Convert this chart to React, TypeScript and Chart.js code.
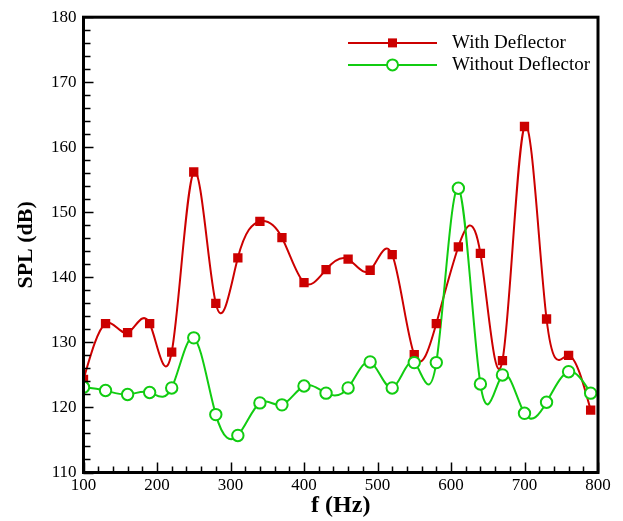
import React, { useEffect, useRef } from "react";
import { Chart, registerables } from "chart.js";

Chart.register(...registerables);

const frequencies = [100, 130, 160, 190, 220, 250, 280, 310, 340, 370, 400, 430, 460, 490, 520, 550, 580, 610, 640, 670, 700, 730, 760, 790];
const withDeflector = [124.3, 132.9, 131.5, 132.9, 128.5, 156.2, 136.0, 143.0, 148.6, 146.1, 139.2, 141.2, 142.8, 141.1, 143.5, 128.1, 132.9, 144.7, 143.7, 127.2, 163.2, 133.6, 128.0, 119.6];
const withoutDeflector = [123.1, 122.6, 122.0, 122.3, 123.0, 130.7, 118.9, 115.7, 120.7, 120.4, 123.3, 122.2, 123.0, 127.0, 123.0, 126.9, 126.9, 153.7, 123.6, 125.0, 119.1, 120.8, 125.5, 122.2];
const seriesNames = ["With Deflector", "Without Deflector"];
const xTitle = "f (Hz)";
const yTitle = "SPL (dB)";

const RED = "#cc0000";
const GREEN = "#11cc11";
const SERIF = "'Liberation Serif', 'Times New Roman', serif";

const splinePlugin = {
  id: "naturalSpline",
  beforeDatasetsDraw(chart: any) {
    const { ctx, chartArea: a } = chart;
    ctx.save();
    ctx.beginPath();
    ctx.rect(a.left, a.top, a.right - a.left, a.bottom - a.top);
    ctx.clip();
    chart.data.datasets.forEach((ds: any, di: number) => {
      const meta = chart.getDatasetMeta(di);
      const x = meta.data.map((p: any) => p.x);
      const y = meta.data.map((p: any) => p.y);
      const n = x.length;
      const h: number[] = [];
      for (let i = 0; i < n - 1; i++) h.push(x[i + 1] - x[i]);
      const M = new Array(n).fill(0);
      if (n > 2) {
        const m = n - 2;
        const A: number[] = [], B: number[] = [], C: number[] = [], D: number[] = [];
        for (let i = 1; i <= m; i++) {
          A.push(h[i - 1]);
          B.push(2 * (h[i - 1] + h[i]));
          C.push(h[i]);
          D.push(6 * ((y[i + 1] - y[i]) / h[i] - (y[i] - y[i - 1]) / h[i - 1]));
        }
        for (let i = 1; i < m; i++) {
          const w = A[i] / B[i - 1];
          B[i] -= w * C[i - 1];
          D[i] -= w * D[i - 1];
        }
        const sol = new Array(m).fill(0);
        sol[m - 1] = D[m - 1] / B[m - 1];
        for (let i = m - 2; i >= 0; i--) sol[i] = (D[i] - C[i] * sol[i + 1]) / B[i];
        for (let i = 0; i < m; i++) M[i + 1] = sol[i];
      }
      ctx.beginPath();
      ctx.moveTo(x[0], y[0]);
      for (let i = 0; i < n - 1; i++) {
        const hi = h[i];
        const s = (y[i + 1] - y[i]) / hi;
        const d0 = s - (hi * (2 * M[i] + M[i + 1])) / 6;
        const d1 = s + (hi * (M[i] + 2 * M[i + 1])) / 6;
        ctx.bezierCurveTo(x[i] + hi / 3, y[i] + (d0 * hi) / 3, x[i + 1] - hi / 3, y[i + 1] - (d1 * hi) / 3, x[i + 1], y[i + 1]);
      }
      ctx.strokeStyle = ds.borderColor;
      ctx.lineWidth = 2;
      ctx.lineJoin = "round";
      ctx.stroke();
    });
    ctx.restore();
  },
};

const framePlugin = {
  id: "frameTicksLegend",
  afterDraw(chart: any) {
    const { ctx, chartArea: a } = chart;
    const xs = chart.scales.x;
    const ys = chart.scales.y;
    ctx.save();
    ctx.strokeStyle = "#000";
    // inward ticks
    ctx.lineWidth = 1.5;
    ctx.beginPath();
    for (let v = 110; v <= 180; v += 2) {
      const py = Math.round(ys.getPixelForValue(v)) + 0.5;
      const len = v % 10 === 0 ? 10 : 7;
      ctx.moveTo(a.left, py);
      ctx.lineTo(a.left + len, py);
    }
    for (let v = 100; v <= 800; v += 20) {
      const px = Math.round(xs.getPixelForValue(v)) + 0.5;
      const len = v % 100 === 0 ? 10 : 6;
      ctx.moveTo(px, a.bottom);
      ctx.lineTo(px, a.bottom - len);
    }
    ctx.stroke();
    // frame
    ctx.lineWidth = 3;
    ctx.strokeRect(a.left, a.top, a.right - a.left, a.bottom - a.top);

    // legend
    const lx0 = a.right - 250;
    const lx1 = a.right - 161;
    const lmid = (lx0 + lx1) / 2;
    const tx = a.right - 146;
    const rows = [a.top + 25.7, a.top + 47.7];
    ctx.font = `19px ${SERIF}`;
    ctx.textBaseline = "middle";
    ctx.textAlign = "left";
    // red
    ctx.lineWidth = 2;
    ctx.strokeStyle = RED;
    ctx.beginPath();
    ctx.moveTo(lx0, rows[0]);
    ctx.lineTo(lx1, rows[0]);
    ctx.stroke();
    ctx.fillStyle = RED;
    ctx.fillRect(lmid - 4.5, rows[0] - 4.5, 9, 9);
    // green
    ctx.strokeStyle = GREEN;
    ctx.beginPath();
    ctx.moveTo(lx0, rows[1]);
    ctx.lineTo(lx1, rows[1]);
    ctx.stroke();
    ctx.fillStyle = "#fff";
    ctx.beginPath();
    ctx.arc(lmid, rows[1], 5.5, 0, Math.PI * 2);
    ctx.fill();
    ctx.stroke();
    ctx.fillStyle = "#000";
    ctx.fillText(seriesNames[0], tx, rows[0]);
    ctx.fillText(seriesNames[1], tx, rows[1]);
    ctx.restore();
  },
};

export default function App() {
  const canvasRef = useRef<HTMLCanvasElement | null>(null);

  useEffect(() => {
    if (!canvasRef.current) return;
    const chart = new Chart(canvasRef.current, {
      type: "line",
      data: {
        datasets: [
          {
            label: seriesNames[0],
            data: frequencies.map((f, i) => ({ x: f, y: withDeflector[i] })),
            borderColor: RED,
            backgroundColor: RED,
            pointStyle: "rect",
            pointRadius: 6.6,
            pointBorderWidth: 0,
            pointBackgroundColor: RED,
            pointBorderColor: RED,
            showLine: false,
            order: 1,
          },
          {
            label: seriesNames[1],
            data: frequencies.map((f, i) => ({ x: f, y: withoutDeflector[i] })),
            borderColor: GREEN,
            backgroundColor: "#fff",
            pointStyle: "circle",
            pointRadius: 5.7,
            pointBorderWidth: 2,
            pointBackgroundColor: "#fff",
            pointBorderColor: GREEN,
            showLine: false,
            order: 0,
          },
        ],
      },
      options: {
        responsive: false,
        animation: false,
        layout: { padding: { top: 15, right: 25, left: 0, bottom: 0 } },
        plugins: {
          legend: { display: false },
          tooltip: { enabled: false },
        },
        scales: {
          x: {
            type: "linear",
            min: 100,
            max: 800,
            grid: { display: false, drawTicks: false },
            border: { display: false },
            ticks: {
              stepSize: 100,
              padding: 3,
              color: "#000",
              font: { family: SERIF, size: 17 },
            },
            title: {
              display: true,
              text: xTitle,
              color: "#000",
              font: { family: SERIF, size: 24, weight: "bold" },
              padding: { top: 0, bottom: 1 },
            },
            afterFit: (scale: any) => {
              scale.height = 48.5;
            },
          },
          y: {
            type: "linear",
            min: 110,
            max: 180,
            grid: { display: false, drawTicks: false },
            border: { display: false },
            ticks: {
              stepSize: 10,
              padding: 7,
              color: "#000",
              font: { family: SERIF, size: 17 },
            },
            title: {
              display: true,
              text: yTitle,
              color: "#000",
              font: { family: SERIF, size: 22, weight: "bold" },
              padding: { top: 13, bottom: 0 },
            },
            afterFit: (scale: any) => {
              scale.width = 83.5;
            },
          },
        },
      },
      plugins: [splinePlugin, framePlugin],
    });
    return () => chart.destroy();
  }, []);

  return (
    <div style={{ position: "fixed", left: 0, top: 0, width: 623, height: 521, background: "#fff" }}>
      <canvas ref={canvasRef} width={623} height={521} style={{ display: "block", width: 623, height: 521 }} />
    </div>
  );
}
